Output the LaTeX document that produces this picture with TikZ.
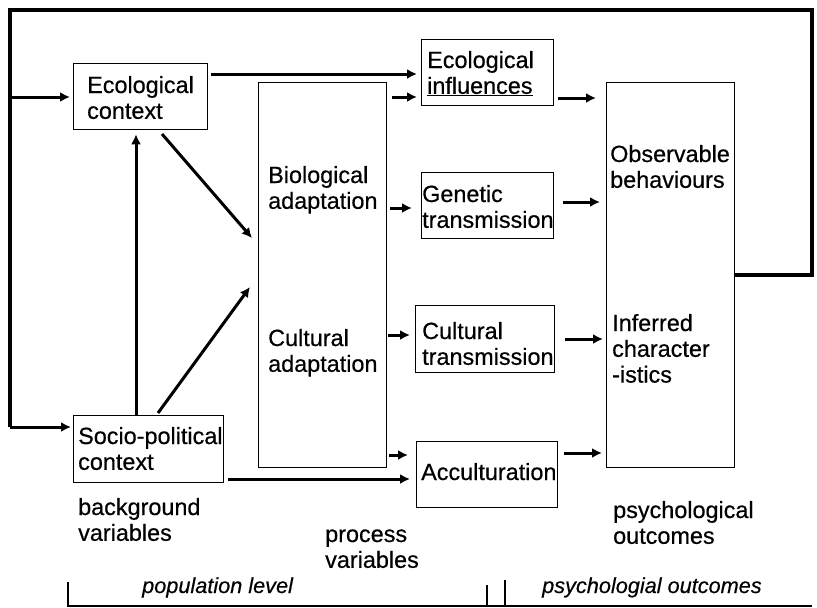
\documentclass[tikz,border=0pt]{standalone}
\usepackage{fontspec}
\setmainfont{Liberation Sans}[UprightFeatures={FakeBold=0.5},ItalicFeatures={FakeBold=0.4}]
\usetikzlibrary{arrows.meta}
\newcommand\txt[1]{\begin{tabular}[t]{@{}l@{}}#1\end{tabular}}
\begin{document}
\begin{tikzpicture}[x=1pt,y=-1pt,
  box/.style={draw,line width=1.3pt,inner sep=0pt,anchor=north west},
  lbl/.style={inner sep=0pt,anchor=base west,font=\fontsize{23.4}{25.8}\selectfont},
  note/.style={inner sep=0pt,anchor=base west,font=\fontsize{21.7}{24}\selectfont\itshape},
  arr/.style={line width=3pt,-{Latex[length=10pt,width=10pt]}},
  link/.style={line width=3.2pt}]
\useasboundingbox (0,0) rectangle (817,608);

% boxes
\node[box,minimum width=134pt,minimum height=66pt] (eco) at (73,63) {};
\node[box,minimum width=150pt,minimum height=67pt] (socio) at (73,415) {};
\node[box,minimum width=128pt,minimum height=385pt] (proc) at (258,82) {};
\node[box,minimum width=132pt,minimum height=66pt] (ecoinf) at (421,39) {};
\node[box,minimum width=132pt,minimum height=66pt] (gen) at (421,172) {};
\node[box,minimum width=139pt,minimum height=67pt] (cult) at (415,305) {};
\node[box,minimum width=141pt,minimum height=66pt] (acc) at (416,441) {};
\node[box,minimum width=128pt,minimum height=385pt] (outc) at (606,82) {};

% box texts
\node[lbl] (tEco) at (87,93) {\txt{Ecological\\context}};
\node[lbl] (tSocio) at (78,444) {\txt{Socio-political\\context}};
\node[lbl] (tBio) at (268,183) {\txt{Biological\\adaptation}};
\node[lbl] (tCad) at (268,346) {\txt{Cultural\\adaptation}};
\node[lbl] (tEcoinf) at (427,68) {\txt{Ecological\\\underline{influences}}};
\node[lbl] (tGen) at (422,202) {\txt{Genetic\\transmission}};
\node[lbl] (tCult) at (422,339) {\txt{Cultural\\transmission}};
\node[lbl] (tAcc) at (421,480) {Acculturation};
\node[lbl] (tObs) at (610,162) {\txt{Observable\\behaviours}};
\node[lbl] (tInf) at (612,331) {\txt{Inferred\\character\\-istics}};

% column captions
\node[lbl] (cBack) at (78,515) {\txt{background\\variables}};
\node[lbl] (cProc) at (325,542) {\txt{process\\variables}};
\node[lbl] (cPsy) at (613,518) {\txt{psychological\\outcomes}};
\node[note] (cPop) at (142,593) {population level};
\node[note] (cOut) at (542,593) {psychologial outcomes};

% feedback loop
\coordinate (fbR) at (812,275);
\coordinate (fbTR) at (812,10);
\coordinate (fbTL) at (10,10);
\coordinate (fbBL) at (10,427);
\coordinate (fbE) at (10,97);
\draw[link] (outc.east |- fbR) -- (fbR) -- (fbTR) -- (fbTL) -- (fbBL);
\draw[arr,shorten >=2pt] (fbBL) -- (socio.west |- fbBL);
\draw[arr,shorten >=3pt] (fbE) -- (eco.west |- fbE);

% background variables
\draw[arr,shorten >=4pt] (socio.north -| 136,0) -- (eco.south -| 136,0);
\draw[arr] (162,134) -- (252,238);
\draw[arr] (158,413) -- (250,287);
\draw[arr,shorten <=3pt,shorten >=4pt] (eco.east |- 0,74) -- (ecoinf.west |- 0,74);
\draw[arr,shorten <=4pt,shorten >=6pt] (socio.east |- 0,479) -- (acc.west |- 0,479);

% process variables
\draw[arr,shorten <=5pt,shorten >=4pt] (proc.east |- 0,97) -- (ecoinf.west |- 0,97);
\draw[arr,shorten <=3pt,shorten >=9pt] (proc.east |- 0,208) -- (gen.west |- 0,208);
\draw[arr,shorten <=1pt,shorten >=5pt] (proc.east |- 0,335) -- (cult.west |- 0,335);
\draw[arr,shorten <=2pt,shorten >=8pt] (proc.east |- 0,455) -- (acc.west |- 0,455);

% towards outcomes
\draw[arr,shorten <=4pt,shorten >=10pt] (ecoinf.east |- 0,98) -- (outc.west |- 0,98);
\draw[arr,shorten <=9pt,shorten >=6pt] (gen.east |- 0,202) -- (outc.west |- 0,202);
\draw[arr,shorten <=10pt,shorten >=3pt] (cult.east |- 0,339) -- (outc.west |- 0,339);
\draw[arr,shorten <=6pt,shorten >=4pt] (acc.east |- 0,453) -- (outc.west |- 0,453);

% level brackets
\draw[line width=2.4pt] (68,582) -- (68,606) -- (812,606);
\draw[line width=2.4pt] (487,585) -- (487,606);
\draw[line width=2.4pt] (505,580) -- (505,606);
\end{tikzpicture}
\end{document}
